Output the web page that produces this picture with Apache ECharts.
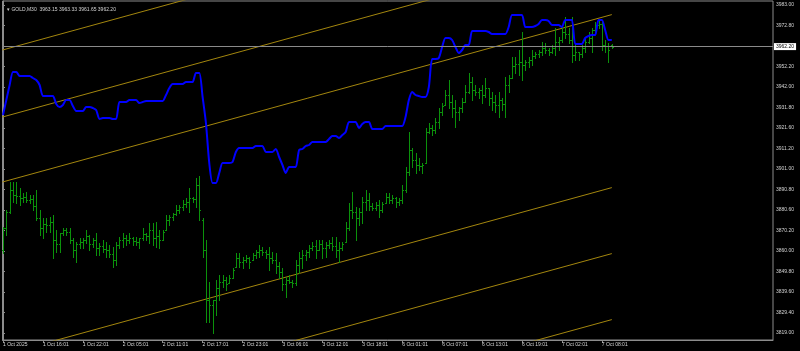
<!DOCTYPE html>
<html><head><meta charset="utf-8">
<script src="https://cdn.jsdelivr.net/npm/echarts@6/dist/echarts.min.js"></script>
<style>html,body{margin:0;padding:0;background:#000;}#c{width:800px;height:351px;}</style>
</head><body><div id="c"></div>
<script>
const xTickIndex = [0,12,24,36,48,60,72,84,96,108,120,132,144,156,168,180];
const xTickLabels = ['1 Oct 2025','1 Oct 16:01','1 Oct 22:01','2 Oct 05:01','2 Oct 11:01','2 Oct 17:01','2 Oct 23:01','3 Oct 06:01','3 Oct 12:01','3 Oct 18:01','6 Oct 01:01','6 Oct 07:01','6 Oct 13:01','6 Oct 19:01','7 Oct 02:01','7 Oct 08:01'];
const yTickValues = [3983.0,3972.8,3952.2,3942.0,3931.8,3921.6,3911.2,3901.0,3890.8,3880.6,3870.2,3860.0,3849.8,3839.6,3829.4,3819.0];

const opens = [
3860.5,3871.5,3879.5,3890.5,3888.0,3887.5,3886.5,3887.0,3885.5,3886.0,
3882.5,3876.5,3871.5,3873.5,3873.0,3874.5,3865.5,3863.5,3869.0,3870.5,
3869.5,3865.5,3860.5,3863.5,3864.5,3865.5,3867.5,3863.5,3865.5,3861.5,
3862.5,3861.0,3860.5,3858.5,3855.5,3863.0,3865.5,3866.5,3865.5,3866.5,
3865.0,3864.5,3866.5,3868.5,3867.5,3870.5,3866.5,3867.5,3865.5,3870.5,
3875.5,3877.0,3878.5,3880.5,3882.0,3883.5,3884.5,3886.5,3886.0,3893.0,
3875.5,3860.5,3835.5,3833.0,3835.5,3841.5,3844.5,3845.5,3844.0,3846.5,
3852.0,3856.5,3854.5,3855.5,3856.5,3855.5,3858.0,3859.5,3860.5,3859.5,
3858.5,3856.5,3855.5,3852.5,3849.5,3843.5,3845.5,3844.5,3844.0,3853.0,
3856.5,3858.0,3859.5,3861.5,3862.5,3860.5,3863.5,3861.5,3863.0,3864.0,
3862.5,3860.5,3861.5,3864.5,3871.5,3880.5,3879.5,3876.5,3879.5,3884.5,
3885.5,3882.5,3881.5,3883.0,3880.5,3884.0,3887.0,3885.5,3886.5,3884.5,
3885.5,3890.5,3899.5,3910.5,3905.5,3903.0,3902.5,3904.0,3919.5,3921.5,
3920.5,3924.5,3929.5,3933.0,3938.0,3934.5,3931.5,3929.5,3931.5,3934.5,
3939.5,3944.5,3940.5,3939.5,3940.5,3938.0,3941.5,3936.5,3934.5,3933.0,
3935.5,3933.5,3943.0,3946.5,3952.5,3953.5,3954.5,3953.0,3954.5,3955.5,
3957.5,3958.5,3959.5,3961.5,3960.5,3959.5,3961.5,3964.5,3965.5,3969.5,
3968.5,3965.5,3958.0,3959.5,3958.5,3961.5,3964.5,3966.5,3970.5,3973.0,
3973.5,3963.0,3962.5,3963.15];
const highs = [
3872.0,3880.5,3894.5,3894.5,3894.5,3891.5,3889.0,3889.5,3888.0,3888.0,
3890.5,3880.5,3876.5,3876.5,3877.0,3878.0,3870.5,3869.0,3871.5,3871.5,
3871.5,3866.5,3864.5,3866.5,3866.5,3870.5,3868.0,3866.5,3869.0,3864.0,
3865.5,3864.5,3863.0,3862.0,3864.5,3867.0,3869.0,3868.0,3869.0,3867.0,
3867.0,3866.5,3871.5,3869.0,3874.0,3874.0,3874.5,3870.5,3870.5,3878.0,
3878.0,3879.0,3883.0,3883.0,3885.5,3886.5,3891.5,3887.0,3896.5,3897.5,
3876.5,3865.5,3844.5,3835.5,3845.5,3848.0,3848.0,3847.0,3848.0,3851.5,
3859.0,3859.0,3857.0,3858.0,3857.0,3859.0,3860.5,3863.0,3862.0,3860.5,
3862.0,3859.5,3859.0,3854.5,3851.5,3847.0,3848.0,3845.5,3855.5,3859.5,
3860.5,3860.5,3863.0,3864.5,3865.5,3865.5,3865.5,3864.5,3865.5,3867.0,
3867.0,3864.5,3864.5,3874.5,3884.0,3889.5,3882.0,3881.5,3887.0,3890.5,
3889.0,3884.0,3884.5,3885.5,3884.5,3889.0,3889.0,3888.0,3887.0,3886.5,
3893.0,3902.0,3919.5,3911.5,3909.0,3906.5,3904.0,3921.5,3924.0,3923.0,
3926.5,3931.5,3934.0,3940.5,3945.5,3938.0,3935.5,3932.0,3936.5,3943.0,
3949.0,3947.0,3943.0,3941.5,3943.0,3946.5,3941.5,3939.5,3938.0,3939.5,
3936.5,3947.0,3948.0,3957.0,3957.0,3960.5,3969.5,3955.5,3957.0,3960.5,
3959.5,3960.5,3964.5,3964.0,3961.5,3963.0,3971.5,3967.0,3973.0,3977.0,
3971.5,3977.0,3963.0,3959.5,3963.0,3966.5,3969.5,3971.5,3974.5,3975.5,
3975.5,3965.5,3964.0,3963.33];
const lows = [
3859.0,3868.0,3879.0,3884.5,3884.0,3883.0,3884.5,3884.5,3884.0,3880.5,
3875.5,3868.0,3866.5,3869.5,3869.5,3856.5,3859.5,3859.5,3868.0,3868.0,
3864.0,3857.0,3854.5,3861.5,3861.5,3864.0,3860.5,3862.0,3858.0,3858.0,
3859.5,3857.0,3857.0,3852.0,3853.0,3861.5,3862.0,3863.0,3864.0,3863.0,
3863.0,3861.5,3865.5,3865.5,3864.0,3863.0,3862.0,3861.5,3865.5,3870.5,
3873.0,3875.5,3878.0,3879.0,3880.5,3882.0,3879.5,3884.5,3882.0,3875.5,
3857.0,3824.5,3824.5,3819.0,3828.0,3835.5,3842.0,3840.5,3844.0,3846.5,
3852.0,3852.0,3851.5,3854.5,3851.5,3855.5,3856.5,3857.0,3858.0,3856.5,
3850.5,3854.0,3849.0,3846.5,3840.5,3837.0,3844.0,3842.0,3843.0,3849.0,
3851.5,3855.5,3857.0,3860.5,3856.5,3860.5,3856.5,3857.0,3861.5,3860.5,
3857.0,3854.5,3860.5,3864.5,3870.5,3876.5,3865.5,3873.0,3874.0,3880.5,
3880.5,3880.5,3880.5,3877.0,3879.5,3884.0,3884.0,3884.0,3882.0,3883.0,
3884.0,3889.5,3898.0,3902.0,3899.0,3900.5,3899.0,3904.0,3919.0,3918.0,
3919.0,3921.5,3928.0,3933.0,3931.5,3927.0,3922.0,3925.5,3929.5,3934.5,
3939.0,3935.5,3938.0,3936.5,3934.0,3937.0,3933.0,3930.5,3929.5,3927.0,
3930.5,3927.0,3939.5,3946.5,3949.0,3948.0,3945.5,3950.5,3952.0,3953.0,
3956.5,3957.0,3958.0,3959.0,3958.0,3959.0,3958.0,3960.5,3964.5,3966.5,
3964.0,3954.5,3955.5,3955.5,3957.0,3959.5,3964.0,3959.5,3969.0,3971.5,
3960.5,3959.5,3954.5,3961.65];
const closes = [
3871.5,3879.5,3890.5,3888.0,3887.5,3886.5,3887.0,3885.5,3886.0,3882.5,
3876.5,3871.5,3873.5,3873.0,3874.5,3865.5,3863.5,3869.0,3870.5,3869.5,
3865.5,3860.5,3863.5,3864.5,3865.5,3867.5,3863.5,3865.5,3861.5,3862.5,
3861.0,3860.5,3858.5,3855.5,3863.0,3865.5,3866.5,3865.5,3866.5,3865.0,
3864.5,3866.5,3868.5,3867.5,3870.5,3866.5,3867.5,3865.5,3869.5,3875.5,
3877.0,3878.5,3880.5,3882.0,3883.5,3884.5,3886.5,3886.0,3893.0,3880.5,
3860.5,3835.5,3833.0,3835.5,3841.5,3844.5,3845.5,3843.5,3846.5,3850.5,
3856.5,3854.5,3855.5,3856.5,3854.5,3858.0,3859.5,3860.5,3859.5,3858.5,
3856.5,3855.5,3852.5,3849.5,3843.5,3845.5,3844.5,3844.0,3853.0,3856.5,
3858.0,3859.5,3861.5,3862.5,3860.5,3863.5,3861.5,3863.0,3864.0,3862.5,
3860.5,3861.5,3863.5,3871.5,3880.5,3879.5,3876.5,3879.5,3884.5,3885.5,
3882.5,3881.5,3883.0,3880.5,3883.5,3887.0,3885.5,3886.5,3884.5,3885.5,
3890.5,3899.5,3910.5,3905.5,3903.0,3902.5,3903.0,3919.5,3921.5,3920.5,
3924.5,3929.5,3932.5,3938.0,3934.5,3931.5,3929.5,3931.5,3934.5,3939.5,
3944.5,3940.5,3939.5,3940.5,3938.0,3941.5,3936.5,3934.5,3933.0,3935.5,
3933.5,3943.0,3946.5,3952.5,3953.5,3954.5,3953.0,3954.5,3955.5,3957.5,
3958.5,3959.5,3961.5,3960.5,3959.5,3961.5,3964.5,3965.5,3969.5,3968.5,
3965.5,3958.0,3959.5,3958.5,3961.5,3964.5,3966.5,3970.5,3973.0,3973.5,
3963.0,3962.5,3960.5,3962.2];
const blueLine = [
3928.0,3935.5,3943.0,3949.5,3949.5,3947.5,3947.5,3947.5,3947.5,3946.5,
3945.5,3943.0,3937.5,3937.5,3937.5,3937.5,3933.5,3932.0,3933.0,3935.5,
3935.5,3932.5,3930.0,3930.0,3930.0,3932.0,3932.0,3931.5,3930.5,3926.0,
3926.5,3926.5,3926.5,3926.0,3926.0,3934.5,3934.5,3934.5,3935.5,3935.5,
3935.5,3934.0,3934.5,3935.0,3935.0,3935.0,3935.0,3935.0,3935.0,3938.0,
3941.5,3943.5,3943.5,3943.5,3943.5,3944.5,3944.5,3944.5,3949.0,3949.0,
3937.0,3924.0,3904.0,3894.0,3894.0,3899.0,3904.0,3904.0,3904.0,3904.5,
3909.5,3911.5,3911.5,3911.5,3911.5,3911.5,3912.5,3912.5,3912.5,3909.5,
3909.5,3909.5,3911.0,3907.0,3903.0,3899.0,3902.0,3902.0,3902.0,3910.5,
3911.0,3912.5,3913.0,3914.5,3914.5,3914.5,3914.5,3914.5,3916.0,3917.5,
3917.5,3916.5,3918.0,3919.5,3924.5,3924.5,3924.5,3921.5,3923.5,3924.5,
3924.5,3921.0,3921.0,3921.0,3921.0,3922.5,3922.5,3922.5,3922.5,3922.5,
3922.5,3927.0,3935.5,3939.5,3938.0,3937.5,3937.0,3937.0,3942.0,3956.0,
3956.0,3956.5,3962.0,3966.5,3966.5,3965.5,3962.0,3959.0,3960.5,3963.0,
3963.0,3970.0,3970.0,3970.0,3970.0,3970.0,3969.5,3968.5,3968.5,3968.5,
3968.5,3968.5,3972.0,3978.0,3978.0,3978.0,3978.0,3972.0,3972.0,3972.0,
3972.5,3973.5,3975.5,3975.5,3975.0,3973.0,3973.0,3973.0,3972.0,3975.5,
3975.5,3975.5,3963.5,3963.5,3963.5,3966.5,3967.5,3968.0,3968.0,3975.5,
3975.5,3970.5,3965.5,3965.5];
const channelStart = [3960.5, 3927.0, 3894.5, 3808.0, 3775.0, 3742.0];
const channelEnd   = [4044.2, 4010.7, 3978.2, 3891.7, 3858.7, 3825.7];
const channelFromIndex = -0.15;
const channelToIndex = 183;
const lastPrice = 3962.2;
const titleText = '\u25BE GOLD,M30  3963.15 3963.33 3961.65 3962.20';

const barColor = '#0b910b';
const frameColor = '#8c8c8c';
const textColor = '#d4d4d4';
const FONT = 'Liberation Sans';

const chart = echarts.init(document.getElementById('c'), null, {renderer: 'canvas'});

const bars = opens.map((o, i) => [i, o, highs[i], lows[i], closes[i]]);

const channelSeries = channelStart.map((s, k) => ({
  type: 'line', silent: true, symbol: 'none', animation: false, clip: true,
  lineStyle: {color: '#a3860e', width: 1},
  data: [[channelFromIndex, s], [channelToIndex, channelEnd[k]]],
  z: 2
}));

chart.setOption({
  backgroundColor: '#000',
  animation: false,
  title: {
    text: titleText, left: 2, top: 2,
    textStyle: {color: textColor, fontSize: 5, fontWeight: 'normal', fontFamily: FONT}
  },
  grid: {left: 1, right: 27, top: 1, bottom: 11, show: true, borderColor: frameColor, borderWidth: 1},
  xAxis: {
    type: 'value', min: -0.15, max: 231.45, position: 'bottom',
    splitLine: {show: false},
    axisLine: {show: true, lineStyle: {color: frameColor, width: 1}},
    axisTick: {show: true, customValues: xTickIndex, length: 3, lineStyle: {color: frameColor}},
    axisLabel: {
      customValues: xTickIndex, align: 'left', margin: 2,
      formatter: v => xTickLabels[xTickIndex.indexOf(v)],
      color: textColor, fontSize: 5, fontFamily: FONT
    }
  },
  yAxis: {
    type: 'value', min: 3815.5, max: 3985, position: 'right', scale: true,
    splitLine: {show: false},
    axisLine: {show: true, lineStyle: {color: frameColor, width: 1}},
    axisTick: {show: true, customValues: yTickValues, length: 2, lineStyle: {color: frameColor}},
    axisLabel: {
      customValues: yTickValues, margin: 3, align: 'left',
      formatter: v => v.toFixed(2),
      color: textColor, fontSize: 5, fontFamily: FONT
    }
  },
  series: [
    ...channelSeries,
    {
      type: 'custom', name: 'GOLD,M30', data: bars, z: 3,
      encode: {x: 0, y: [1, 2, 3, 4]},
      renderItem: function (params, api) {
        const i = api.value(0);
        const pH = api.coord([i, api.value(2)]);
        const pL = api.coord([i, api.value(3)]);
        const pO = api.coord([i, api.value(1)]);
        const pC = api.coord([i, api.value(4)]);
        const x = Math.round(pH[0]) + 0.5;
        const st = {stroke: barColor, lineWidth: 1};
        const yO = Math.round(pO[1]) + 0.5, yC = Math.round(pC[1]) + 0.5;
        return {type: 'group', children: [
          {type: 'line', shape: {x1: x, y1: Math.round(pH[1]), x2: x, y2: Math.round(pL[1]) + 1}, style: st},
          {type: 'line', shape: {x1: x - 1.5, y1: yO, x2: x - 0.5, y2: yO}, style: st},
          {type: 'line', shape: {x1: x + 0.5, y1: yC, x2: x + 1.5, y2: yC}, style: st}
        ]};
      }
    },
    {
      type: 'line', name: 'indicator', data: blueLine.map((v, i) => [i, v]),
      symbol: 'none', smooth: 0.25, z: 4,
      lineStyle: {color: '#0000ff', width: 2},
      markLine: {
        silent: true, symbol: ['none', 'none'], animation: false,
        lineStyle: {color: '#8a8a8a', width: 1, type: 'solid'},
        label: {
          show: true, position: 'end', distance: 1,
          formatter: () => lastPrice.toFixed(2),
          backgroundColor: '#ffffff', color: '#000', fontSize: 5, fontFamily: FONT,
          padding: [1, 2]
        },
        data: [{yAxis: lastPrice}]
      }
    }
  ]
});
</script>
</body></html>
